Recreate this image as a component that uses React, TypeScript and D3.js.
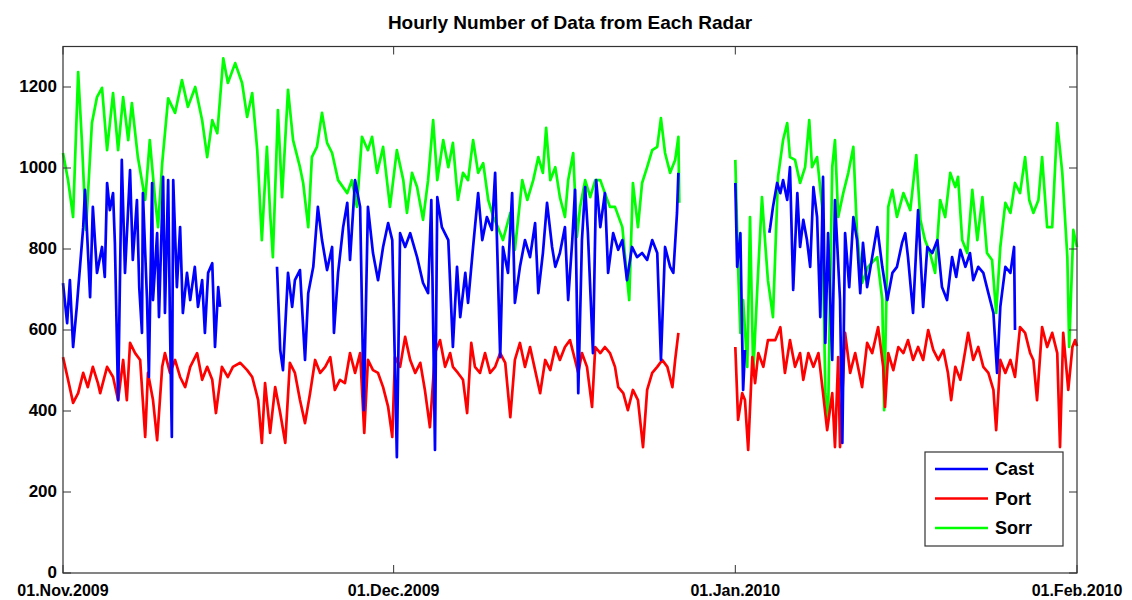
import React from "react";
import * as d3 from "d3";

type P = [number, number | null];

// hours since 01.Nov.2009 00:00, value (null = no data)
const sorr: P[] = [[0,1037],[11,970],[22,879],[33,1237],[41,1069],[50,847],[63,1111],[74,1175],[85,1198],[96,1044],[109,1185],[120,1044],[131,1175],[142,1069],[150,1160],[163,1027],[179,921],[189,1069],[200,928],[207,854],[216,1012],[229,1172],[244,1136],[259,1217],[272,1151],[288,1200],[303,1118],[314,1027],[325,1118],[336,1086],[349,1271],[359,1210],[375,1259],[390,1210],[401,1126],[412,1185],[423,1044],[433,822],[444,1052],[451,889],[457,780],[468,1143],[477,928],[490,1193],[501,1069],[516,1002],[523,963],[534,854],[542,1027],[553,1052],[564,1136],[575,1062],[586,1037],[599,970],[619,938],[629,970],[640,904],[651,1077],[664,1044],[673,1077],[684,988],[697,1052],[712,904],[727,1044],[741,970],[749,889],[760,988],[771,953],[784,872],[795,970],[806,1118],[815,970],[828,1069],[839,1002],[849,1062],[860,921],[871,988],[882,970],[893,1069],[904,988],[915,1012],[926,921],[937,879],[947,854],[958,822],[974,889],[984,798],[1000,970],[1011,921],[1024,970],[1035,1027],[1045,988],[1052,1099],[1061,970],[1072,1002],[1082,928],[1093,879],[1100,970],[1111,1037],[1119,830],[1126,904],[1137,970],[1148,928],[1159,970],[1170,970],[1180,938],[1191,904],[1202,904],[1218,854],[1226,756],[1233,674],[1241,963],[1252,854],[1261,963],[1272,1002],[1283,1044],[1294,1052],[1302,1123],[1311,1037],[1322,988],[1333,1020],[1340,1077],[1342,914],[1343,null],
[1464,1020],[1470,756],[1475,593],[1481,674],[1490,509],[1496,879],[1503,494],[1512,706],[1522,928],[1529,815],[1535,723],[1546,632],[1557,978],[1568,1069],[1577,1111],[1583,1027],[1594,1020],[1605,963],[1616,1002],[1625,1118],[1631,1002],[1642,1027],[1653,904],[1660,444],[1666,385],[1675,1002],[1681,1069],[1688,879],[1699,938],[1710,988],[1721,1052],[1729,839],[1740,716],[1753,756],[1773,780],[1784,674],[1788,402],[1797,904],[1806,946],[1816,879],[1830,938],[1845,896],[1858,1032],[1867,872],[1877,822],[1888,790],[1899,741],[1910,921],[1921,879],[1932,988],[1943,953],[1949,978],[1958,822],[1969,790],[1980,946],[1991,822],[2002,928],[2012,790],[2023,773],[2032,642],[2041,805],[2052,914],[2063,889],[2073,963],[2084,938],[2095,1027],[2104,921],[2113,889],[2124,921],[2132,1027],[2143,854],[2154,854],[2165,1111],[2176,988],[2187,780],[2191,558],[2200,847],[2208,805]];

const cast: P[] = [[0,716],[9,617],[15,723],[22,558],[30,657],[37,756],[44,854],[48,946],[59,681],[65,904],[74,741],[85,805],[91,731],[96,963],[102,896],[109,938],[113,815],[120,427],[128,1020],[135,741],[146,995],[152,773],[161,921],[166,706],[172,593],[174,938],[183,674],[187,484],[194,963],[196,674],[205,839],[209,632],[218,978],[222,642],[229,970],[233,607],[237,336],[240,970],[248,706],[255,854],[261,642],[270,741],[277,674],[287,756],[294,657],[303,723],[309,593],[316,741],[325,765],[331,558],[338,706],[342,657],[343,null],
[466,756],[473,551],[479,501],[490,741],[499,657],[505,723],[516,748],[527,526],[534,691],[545,756],[555,904],[564,822],[575,748],[586,805],[590,593],[599,741],[610,854],[619,914],[625,773],[636,970],[647,904],[655,402],[664,904],[675,790],[686,723],[697,805],[708,864],[717,822],[727,286],[734,839],[745,805],[756,839],[771,780],[784,716],[795,691],[802,921],[810,304],[815,928],[825,854],[839,822],[849,558],[858,756],[865,632],[876,741],[882,667],[893,805],[904,938],[913,822],[923,879],[934,847],[941,988],[952,533],[958,805],[969,741],[978,938],[984,667],[995,756],[1006,822],[1017,780],[1028,864],[1035,691],[1045,790],[1054,914],[1065,805],[1072,756],[1082,790],[1093,854],[1100,674],[1109,822],[1115,946],[1122,444],[1130,822],[1137,953],[1143,839],[1154,543],[1161,970],[1170,854],[1180,938],[1187,741],[1198,839],[1209,798],[1218,822],[1228,723],[1239,805],[1250,780],[1261,790],[1272,773],[1283,822],[1294,790],[1302,526],[1311,805],[1322,756],[1329,741],[1337,889],[1340,988],[1341,null],
[1464,963],[1468,756],[1475,839],[1479,575],[1481,452],[1485,551],[1487,null],
[1538,840],[1540,854],[1546,904],[1555,963],[1562,938],[1568,970],[1577,921],[1583,1002],[1590,699],[1599,938],[1605,805],[1612,872],[1620,822],[1627,756],[1634,953],[1642,879],[1649,632],[1655,978],[1660,568],[1666,839],[1675,526],[1681,921],[1692,674],[1697,321],[1703,839],[1712,706],[1721,879],[1729,822],[1736,691],[1742,815],[1751,706],[1762,780],[1773,854],[1784,756],[1795,674],[1806,741],[1816,756],[1827,815],[1834,839],[1840,780],[1851,642],[1862,896],[1873,657],[1882,805],[1893,790],[1904,822],[1914,706],[1925,674],[1936,780],[1945,731],[1954,798],[1965,756],[1975,790],[1982,723],[1993,756],[2004,741],[2015,691],[2026,642],[2034,494],[2041,657],[2052,756],[2063,741],[2071,805],[2073,600]];

const port: P[] = [[0,533],[11,477],[22,420],[33,444],[44,494],[54,459],[65,509],[76,469],[81,444],[96,509],[109,484],[120,427],[131,526],[139,427],[146,568],[157,543],[168,526],[179,336],[185,494],[196,427],[205,328],[216,509],[222,543],[233,494],[244,526],[255,484],[266,459],[277,509],[292,543],[303,477],[314,509],[325,477],[333,395],[346,509],[359,484],[370,509],[386,519],[401,501],[412,484],[425,427],[433,321],[440,469],[451,346],[462,459],[473,395],[484,321],[494,519],[505,494],[516,427],[527,370],[538,444],[549,526],[560,494],[571,509],[582,533],[592,452],[603,477],[614,469],[625,543],[636,494],[647,543],[656,346],[664,526],[675,501],[686,494],[697,459],[708,410],[717,336],[723,533],[734,509],[745,583],[756,526],[767,494],[778,519],[788,452],[799,360],[810,543],[821,575],[832,509],[843,543],[849,509],[860,494],[871,477],[880,395],[889,568],[897,509],[908,494],[919,543],[930,494],[941,509],[952,543],[963,519],[974,385],[984,526],[995,568],[1006,509],[1017,558],[1028,501],[1039,444],[1050,526],[1061,501],[1072,558],[1082,526],[1093,558],[1104,575],[1115,526],[1122,494],[1130,543],[1141,509],[1152,410],[1159,558],[1170,543],[1180,558],[1191,543],[1202,509],[1209,459],[1220,444],[1230,402],[1241,452],[1252,427],[1263,311],[1272,452],[1283,494],[1294,509],[1305,526],[1316,509],[1327,459],[1333,526],[1340,593],[1341,null],
[1464,558],[1470,378],[1479,444],[1485,427],[1492,304],[1501,533],[1507,469],[1514,543],[1525,509],[1535,575],[1551,575],[1562,607],[1572,494],[1583,575],[1594,509],[1605,543],[1612,477],[1623,543],[1634,509],[1645,543],[1655,444],[1664,353],[1675,444],[1681,311],[1688,533],[1692,311],[1703,593],[1714,494],[1725,543],[1740,459],[1751,568],[1762,543],[1775,607],[1786,509],[1790,410],[1797,543],[1808,501],[1819,558],[1830,543],[1840,575],[1851,526],[1862,558],[1873,526],[1884,600],[1895,551],[1906,526],[1917,551],[1927,494],[1934,427],[1943,509],[1954,477],[1965,551],[1971,593],[1982,526],[1993,558],[2004,509],[2015,494],[2026,452],[2032,353],[2041,526],[2052,494],[2063,526],[2073,484],[2084,607],[2095,593],[2106,543],[2113,526],[2121,427],[2132,607],[2143,558],[2154,593],[2165,543],[2171,311],[2178,593],[2189,452],[2198,558],[2204,575],[2208,560]];

const seriesNames = ["Cast", "Port", "Sorr"];
const seriesColors = ["#0000ff", "#ff0000", "#00ff00"];
const yTicks = [0, 200, 400, 600, 800, 1000, 1200];
const xTickDates = ["2009-11-01", "2009-12-01", "2010-01-01", "2010-02-01"];
const xTickLabels = ["01.Nov.2009", "01.Dec.2009", "01.Jan.2010", "01.Feb.2010"];
const title = "Hourly Number of Data from Each Radar";

const START = Date.UTC(2009, 10, 1);
const HOUR = 3600 * 1000;

export default function App() {
  const W = 1132, H = 600;
  const left = 63, right = 1077, top = 46.5, bottom = 573;
  const x = d3.scaleUtc()
    .domain([new Date("2009-11-01T00:00:00Z"), new Date("2010-02-01T00:00:00Z")])
    .range([left, right]);
  const y = d3.scaleLinear().domain([0, 1300]).range([bottom, top]);
  const line = d3.line<P>()
    .defined((d) => d[1] !== null)
    .x((d) => x(new Date(START + d[0] * HOUR)))
    .y((d) => y(d[1] as number));
  const font = "'Liberation Sans', Arial, Helvetica, sans-serif";
  const tickLen = 8;
  const data = [cast, port, sorr];
  const drawOrder = [2, 1, 0];
  const legX = 925, legY = 452, legW = 138, legH = 94;

  return (
    <svg width={W} height={H} style={{ position: "absolute", left: 0, top: 0, background: "#fff" }} fontFamily={font}>
      <rect x={0} y={0} width={W} height={H} fill="#fff" />
      <text x={(left + right) / 2} y={29} textAnchor="middle" fontWeight="bold" fontSize={19}>{title}</text>
      <g>
        {drawOrder.map((i) => (
          <path key={i} d={line(data[i]) || ""} fill="none" stroke={seriesColors[i]} strokeWidth={2.7} strokeLinejoin="round" />
        ))}
      </g>
      <rect x={left} y={top} width={right - left} height={bottom - top} fill="none" stroke="#333" strokeWidth={1.2} />
      {yTicks.map((t) => (
        <g key={t}>
          <line x1={left} x2={left + tickLen} y1={y(t)} y2={y(t)} stroke="#333" />
          <line x1={right} x2={right - tickLen} y1={y(t)} y2={y(t)} stroke="#333" />
          <text x={left - 6} y={y(t)} dy="0.3em" textAnchor="end" fontWeight="bold" fontSize={17}>{t}</text>
        </g>
      ))}
      {xTickDates.map((s, i) => {
        const px = x(new Date(s + "T00:00:00Z"));
        return (
          <g key={s}>
            <line x1={px} x2={px} y1={bottom} y2={bottom - tickLen} stroke="#333" />
            <line x1={px} x2={px} y1={top} y2={top + tickLen} stroke="#333" />
            <text x={px} y={596.3} textAnchor="middle" fontWeight="bold" fontSize={16}>{xTickLabels[i]}</text>
          </g>
        );
      })}
      <g>
        <rect x={legX} y={legY} width={legW} height={legH} fill="#fff" stroke="#333" strokeWidth={1.2} />
        {seriesNames.map((n, i) => (
          <g key={n}>
            <line x1={legX + 10} x2={legX + 63} y1={legY + 17 + i * 29.5} y2={legY + 17 + i * 29.5} stroke={seriesColors[i]} strokeWidth={2.4} />
            <text x={legX + 70} y={legY + 17 + i * 29.5} dy="0.36em" fontWeight="bold" fontSize={18}>{n}</text>
          </g>
        ))}
      </g>
    </svg>
  );
}
